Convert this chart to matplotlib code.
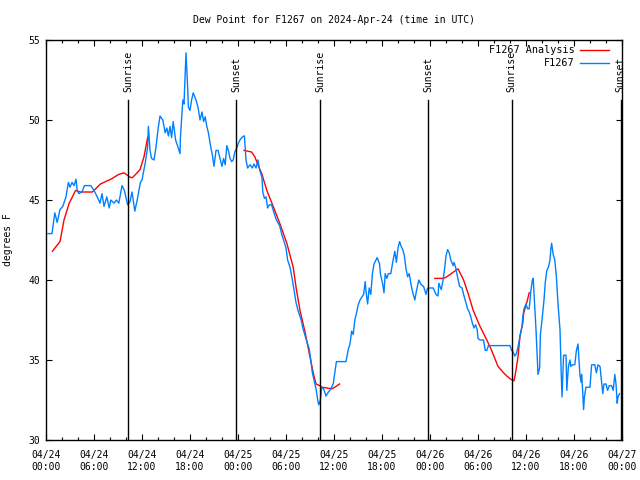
import matplotlib
matplotlib.use("Agg")
import matplotlib.pyplot as plt
import matplotlib.dates as mdates
import numpy as np
from datetime import datetime, timedelta

plt.rcParams['font.family'] = ['DejaVu Sans Mono']
plt.rcParams['font.size'] = 7

start = datetime(2024, 4, 24)

# observed dew point (hours since 04/24 00:00 UTC, degrees F)
obs_hours = [0.25, 0.75, 1.1, 1.4, 1.75, 2.1, 2.5, 2.8, 3.0, 3.25, 3.5, 3.75, 3.9, 4.1, 4.5, 4.8,
             5.6, 6.0, 6.4, 6.75, 7.0, 7.25, 7.6, 7.9, 8.1, 8.5, 8.8, 9.1, 9.5, 9.8, 10.2, 10.5,
             10.75, 11.1, 11.4, 11.8, 12.0, 12.4, 12.7, 12.8, 13.0, 13.2, 13.5, 13.75, 14.0, 14.25,
             14.6, 14.9, 15.1, 15.3, 15.5, 15.7, 15.9, 16.2, 16.5, 16.75, 16.8, 17.0, 17.1, 17.25,
             17.4, 17.5, 17.7, 17.8, 18.0, 18.2, 18.4, 18.75, 19.0, 19.25, 19.5, 19.7, 19.9, 20.1,
             20.3, 20.6, 20.8, 21.0, 21.25, 21.5, 21.75, 22.0, 22.2, 22.4, 22.6, 22.8, 23.0, 23.2,
             23.4, 23.6, 23.9, 24.0, 24.3, 24.7, 24.8, 25.0, 25.2, 25.5, 25.8, 26.0, 26.25, 26.5,
             26.7, 27.0, 27.1, 27.3, 27.5, 27.7, 27.9, 28.2, 28.5, 28.8, 29.2, 29.5, 29.7, 30.0,
             30.2, 30.5, 30.8, 31.0, 31.25, 31.5, 31.9, 32.1, 32.4, 32.7, 32.9, 33.1, 33.3, 33.5,
             33.75, 34.0, 34.1, 34.3, 34.45, 34.7, 35.0, 35.3, 35.6, 35.9, 36.1, 36.3, 37.5, 37.8,
             38.0, 38.2, 38.4, 38.6, 38.8, 39.0, 39.25, 39.5, 39.7, 39.9, 40.0, 40.2, 40.4, 40.6,
             40.8, 41.0, 41.25, 41.4, 41.7, 41.8, 42.1, 42.25, 42.4, 42.6, 42.8, 43.1, 43.3, 43.6,
             43.8, 44.0, 44.2, 44.4, 44.6, 44.8, 45.0, 45.2, 45.4, 45.6, 45.8, 46.1, 46.3, 46.6,
             46.9, 47.2, 47.5, 47.7, 48.4, 48.75, 49.0, 49.1, 49.4, 49.6, 49.8, 50.0, 50.2, 50.4,
             50.6, 50.9, 51.0, 51.2, 51.4, 51.7, 52.0, 52.2, 52.4, 52.7, 52.9, 53.1, 53.3, 53.5,
             53.7, 53.9, 54.0, 54.25, 54.7, 54.9, 55.1, 55.3, 58.0, 58.2, 58.4, 58.6, 58.8, 59.0,
             59.25, 59.5, 59.6, 59.75, 60.0, 60.2, 60.4, 60.6, 60.8, 60.9, 61.1, 61.25, 61.4, 61.5,
             61.7, 61.8, 62.0, 62.25, 62.4, 62.6, 62.8, 63.0, 63.1, 63.2, 63.4, 63.6, 63.8, 64.0,
             64.25, 64.4, 64.5, 64.6, 64.7, 65.0, 65.1, 65.3, 65.5, 65.6, 65.8, 66.1, 66.3, 66.5,
             66.6, 66.75, 66.9, 66.95, 67.1, 67.2, 67.3, 67.5, 68.0, 68.2, 68.6, 68.8, 69.0, 69.25,
             69.5, 69.6, 69.75, 70.0, 70.2, 70.4, 70.7, 70.9, 71.1, 71.25, 71.4, 71.5, 71.7]
obs_dewp = [42.9, 42.9, 44.2, 43.6, 44.4, 44.6, 45.2, 46.1, 45.8, 46.1, 45.9, 46.3, 45.6, 45.4, 45.5, 45.9,
            45.9, 45.6, 45.2, 44.8, 45.4, 44.6, 45.2, 44.5, 45.0, 44.8, 45.0, 44.8, 45.9, 45.6, 44.7, 44.9,
            45.5, 44.3, 45.0, 46.1, 46.25, 47.3, 48.3, 49.6, 48.1, 47.6, 47.5, 48.3, 49.4, 50.25,
            50.0, 49.2, 49.5, 49.0, 49.6, 48.9, 49.9, 48.75, 48.3, 47.9, 48.9, 50.5, 51.25, 51.0,
            52.9, 54.2, 52.1, 50.8, 50.6, 51.25, 51.7, 51.25, 50.8, 50.0, 50.5, 49.9, 50.2, 49.6,
            49.2, 48.3, 47.8, 47.1, 48.1, 48.1, 47.6, 47.1, 47.6, 47.2, 48.4, 48.1, 47.6, 47.4,
            47.5, 48.0, 48.3, 48.5, 48.8, 49.0, 49.0, 47.5, 47.0, 47.2, 47.0, 47.25, 47.0, 47.5,
            46.9, 46.4, 45.5, 45.1, 45.2, 44.5, 44.7, 44.7, 44.2, 43.75, 43.4, 42.8, 42.5, 42.0,
            41.25, 40.8, 40.0, 39.4, 38.6, 38.1, 37.5, 37.0, 36.5, 36.0, 35.7, 35.0, 34.2, 33.75,
            33.2, 32.4, 32.2, 32.5, 33.3, 33.2, 32.75, 33.0, 33.2, 33.5, 34.2, 34.9, 34.9, 35.7,
            36.0, 36.8, 36.6, 37.5, 37.9, 38.4, 38.75, 38.95, 39.1, 39.9, 39.3, 38.5, 39.5, 39.1,
            40.4, 41.0, 41.25, 41.4, 41.0, 40.4, 39.7, 39.2, 40.4, 40.1, 40.4, 40.4, 41.0, 41.8,
            41.1, 42.0, 42.4, 42.1, 41.9, 41.5, 40.7, 40.2, 40.4, 39.8, 39.3, 38.75, 39.3, 40.0,
            39.7, 39.6, 39.1, 39.5, 39.5, 39.1, 39.0, 39.8, 39.4, 39.9, 40.6, 41.5, 41.9, 41.7,
            41.25, 40.9, 41.1, 40.8, 40.3, 39.6, 39.5, 39.1, 38.75, 38.2, 38.0, 37.7, 37.3, 37.0,
            37.2, 36.9, 36.35, 36.25, 36.25, 35.6, 35.6, 35.9, 35.9, 35.6, 35.5, 35.25, 35.4, 35.8,
            36.5, 37.1, 37.7, 38.2, 38.5, 38.2, 38.2, 39.3, 40.0, 40.1, 38.3, 36.9, 35.25, 34.1,
            34.5, 36.6, 37.5, 38.75, 39.8, 40.6, 40.8, 41.25, 41.9, 42.3, 41.6, 41.25, 40.2, 38.5,
            36.9, 34.2, 32.7, 34.0, 35.3, 35.3, 33.1, 34.6, 35.0, 34.6, 34.7, 34.7, 35.6, 36.0,
            35.2, 34.0, 33.6, 34.1, 32.9, 31.9, 32.7, 33.3, 33.3, 34.7, 34.7, 34.2, 34.7, 34.6,
            33.4, 32.9, 33.5, 33.5, 33.1, 33.4, 33.4, 33.1, 34.1, 33.5, 32.3, 32.7, 32.9]

# analysis (three separate runs, NaN breaks the line)
ana_hours = [0.8, 1.75, 2.25, 2.9, 3.7, 4.3, 5.8, 6.8, 8.1, 9.1, 9.75, 10.6, 10.8, 11.2, 11.75, 12.0,
             12.25, 12.7, 12.8, 13.0,
             24.75, 25.7, 26.1, 26.5, 27.0, 27.6, 28.4, 29.25, 30.1, 30.9, 31.3, 31.75, 32.4, 33.0,
             33.4, 33.75, 34.2, 34.5, 35.75, 36.1, 36.7, 37.0,
             48.6, 49.7, 50.1, 51.5, 52.2, 52.8, 53.4, 54.25, 55.1, 55.7, 56.1, 56.5, 57.2, 57.6,
             58.1, 58.5, 58.7, 59.0, 59.25, 59.6, 59.7, 60.1, 60.4]
ana_dewp = [41.8, 42.4, 43.75, 44.8, 45.6, 45.5, 45.5, 46.0, 46.3, 46.6, 46.7, 46.4, 46.4, 46.6, 46.9, 47.3,
            47.7, 48.9, 49.0, np.nan,
            48.1, 48.0, 47.7, 47.2, 46.6, 45.6, 44.6, 43.5, 42.3, 40.8, 39.4, 38.1, 36.7, 35.2,
            34.2, 33.5, 33.4, 33.3, 33.2, 33.3, 33.5, np.nan,
            40.1, 40.1, 40.2, 40.7, 40.0, 39.1, 38.1, 37.1, 36.25, 35.6, 35.1, 34.6, 34.2, 34.0,
            33.8, 33.7, 34.2, 35.2, 36.5, 37.3, 37.9, 38.6, 39.2]

sun_hours = [10.25, 23.8, 34.25, 47.8, 58.2, 71.85]
sun_labels = ['Sunrise', 'Sunset', 'Sunrise', 'Sunset', 'Sunrise', 'Sunset']


def to_time(hours):
    return [start + timedelta(hours=h) for h in hours]


fig = plt.figure(figsize=(6.4, 4.8), dpi=100)
ax = fig.add_axes([46 / 640, 40 / 480, 576 / 640, 400 / 480])

ax.plot(to_time(ana_hours), ana_dewp, color='#ff0000', lw=1, label='F1267 Analysis')
ax.plot(to_time(obs_hours), obs_dewp, color='#0080ff', lw=1, label='F1267')

# sunrise / sunset markers
for h, lab in zip(sun_hours, sun_labels):
    t = start + timedelta(hours=h)
    ax.axvline(t, ymin=0, ymax=0.85, color='black', lw=1)
    ax.text(t, 0.87, lab, transform=ax.get_xaxis_transform(), rotation=90,
            ha='center', va='bottom', fontsize=7)

ax.set_xlim(start, start + timedelta(days=3))
ax.set_ylim(30, 55)
ax.set_yticks([30, 35, 40, 45, 50, 55])
ax.xaxis.set_major_locator(mdates.HourLocator(byhour=[0, 6, 12, 18]))
ax.xaxis.set_minor_locator(mdates.HourLocator(interval=2))
ax.xaxis.set_major_formatter(mdates.DateFormatter('%m/%d\n%H:%M'))

ax.tick_params(which='major', direction='in', length=4, width=0.8, top=True, right=True, pad=4)
ax.tick_params(axis='x', which='major', pad=7.5)
ax.tick_params(which='minor', direction='in', length=2, width=0.8, top=True, right=True)
for s in ax.spines.values():
    s.set_linewidth(1)

ax.set_ylabel('degrees F', labelpad=11)
ax.set_title('Dew Point for F1267 on 2024-Apr-24 (time in UTC)', pad=12, fontsize=7)

ax.legend(loc='upper right', bbox_to_anchor=(0.986, 1.0), frameon=False, markerfirst=False,
          handlelength=2.8, borderaxespad=0.1, labelspacing=0.3, handletextpad=0.6, fontsize=7.3)

fig.savefig('out.png', dpi=100)
